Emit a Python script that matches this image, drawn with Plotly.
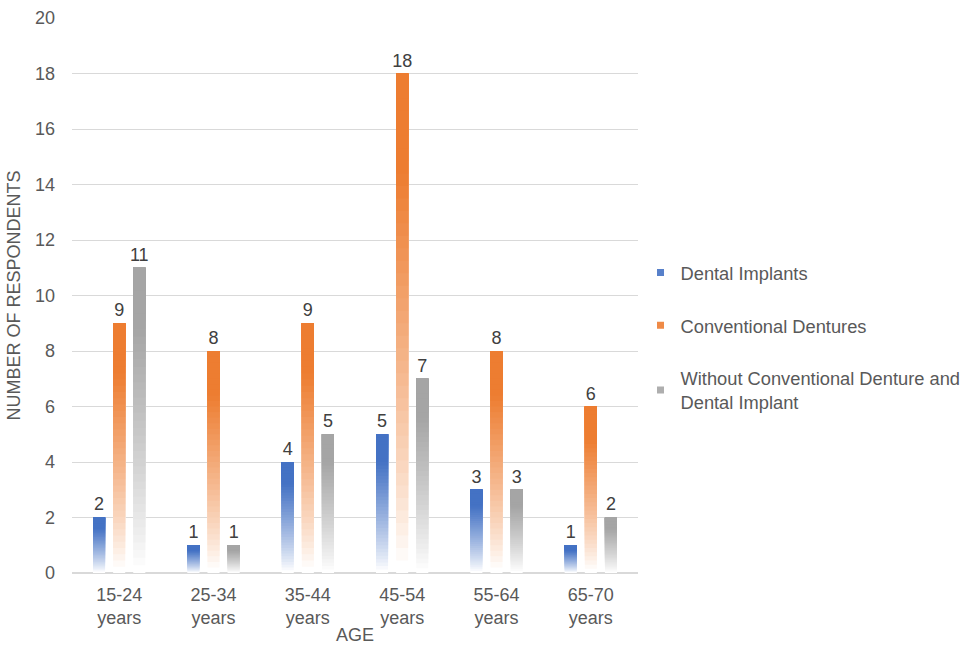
import plotly.graph_objects as go
import numpy as np

# Age groups and respondent counts per prosthetic status
age_groups = ["15-24<br>years", "25-34<br>years", "35-44<br>years",
              "45-54<br>years", "55-64<br>years", "65-70<br>years"]
dental_implants = [2, 1, 4, 5, 3, 1]
conventional_dentures = [9, 8, 9, 18, 8, 6]
without_either = [11, 1, 5, 7, 3, 2]

series = [
    ("Dental Implants", dental_implants, (68, 114, 196)),
    ("Conventional Dentures", conventional_dentures, (237, 125, 49)),
    ("Without Conventional Denture and<br>Dental Implant", without_either, (165, 165, 165)),
]

FONT = "Liberation Sans, Arial, sans-serif"
N_STEPS = 40  # layers used to render the vertical white-to-colour fade


def blend(rgb, t):
    r, g, b = (round(255 + (c - 255) * t) for c in rgb)
    return f"rgb({r},{g},{b})"


def fade(f):
    # fraction of full colour at relative height f (0 = bottom, 1 = top)
    return float(np.clip((f - 0.02) / 0.78, 0, 1) ** 0.85)


fig = go.Figure()
for name, values, rgb in series:
    vals = np.array(values, dtype=float)
    # each layer starts a little higher and runs to the bar's full value,
    # so later (more saturated) layers paint over the upper part
    for k in range(N_STEPS):
        top = k == N_STEPS - 1
        fig.add_trace(go.Bar(
            x=age_groups,
            y=vals * (N_STEPS - k) / N_STEPS,
            base=vals * k / N_STEPS,
            offsetgroup=name,
            marker=dict(color=blend(rgb, fade((k + 0.5) / N_STEPS)), line=dict(width=0)),
            name=name,
            legendgroup=name,
            showlegend=False,
            text=[str(v) for v in values] if top else None,
            textposition="outside" if top else "none",
            constraintext="none",
            textfont=dict(family=FONT, size=18, color="#404040"),
            cliponaxis=False,
            hoverinfo="skip" if not top else None,
        ))
    # legend entry with a small square key
    fig.add_trace(go.Scatter(
        x=[None], y=[None], mode="markers", name=name, legendgroup=name,
        marker=dict(symbol="square", size=7, color=blend(rgb, 0.9)),
        showlegend=True,
    ))

fig.update_layout(
    width=969, height=656,
    margin=dict(l=72, r=331, t=18, b=83, autoexpand=False),
    paper_bgcolor="white", plot_bgcolor="white",
    barmode="group", bargap=0.36, bargroupgap=0.4,
    font=dict(family=FONT, size=18, color="#595959"),
    showlegend=True,
    legend=dict(xref="container", x=0.661, xanchor="left",
                y=0.424, yanchor="middle",
                font=dict(family=FONT, size=18.3, color="#595959"),
                itemwidth=30, tracegroupgap=26, bgcolor="rgba(0,0,0,0)"),
    xaxis=dict(
        title=dict(text="AGE", font=dict(size=18, color="#595959"), standoff=1),
        showline=True, linecolor="#d9d9d9", linewidth=1,
        tickfont=dict(size=18, color="#595959"),
        ticks="", ticklabelstandoff=5,
    ),
    yaxis=dict(
        title=dict(text="NUMBER OF RESPONDENTS", font=dict(size=18, color="#595959"), standoff=9),
        range=[0, 20], dtick=2, tick0=0,
        showgrid=True, gridcolor="#d9d9d9", gridwidth=1,
        zeroline=True, zerolinecolor="#d9d9d9",
        tickfont=dict(size=18, color="#595959"),
        ticks="", ticklabelstandoff=16,
    ),
)

fig.write_html("out.html")
